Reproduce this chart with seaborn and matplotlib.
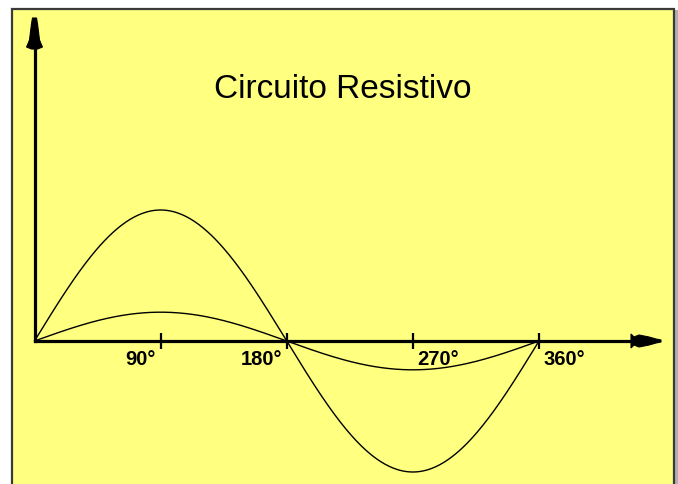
import numpy as np
import pandas as pd
import matplotlib
matplotlib.use("Agg")
import matplotlib.pyplot as plt
import matplotlib.transforms as mtransforms
from matplotlib.patches import Rectangle, Polygon
import seaborn as sns

# --- data -------------------------------------------------------------
angulos = np.arange(0, 361, 1)            # graus
amplitude_tensao = 1.0                    # pico da tensão (u.a.)
amplitude_corrente = 0.22                 # pico da corrente (u.a.)
marcas_graus = [90, 180, 270, 360]
rotulos_marcas = ["90°", "180°", "270°", "360°"]
titulo = "Circuito Resistivo"

# --- figure geometry (pixels) -----------------------------------------
W, H = 678, 484
DPI = 100
ORIGEM_X, ORIGEM_Y = 34.5, 341.0          # where (0°, 0) sits
PX_POR_GRAU = (539.0 - ORIGEM_X) / 360.0
PX_POR_UNIDADE = 131.0

AMARELO = "#FFFF80"

sns.set_theme(style="white")
plt.rcParams["font.family"] = ["Liberation Sans", "DejaVu Sans"]

fig = plt.figure(figsize=(W / DPI, H / DPI), dpi=DPI, facecolor="white")
# pixel transform with origin at the top-left corner
px = mtransforms.Affine2D().scale(1, -1).translate(0, H)

# framed yellow panel (behind the axes)
fig.patches.append(Rectangle((674, 10), 4, H, transform=px, facecolor="#B0B0B0",
                             edgecolor="none", zorder=-3))
fig.patches.append(Rectangle((12, 9), 662, H + 10, transform=px, facecolor=AMARELO,
                             edgecolor="#3a3a3a", linewidth=1.6, zorder=-2))

ax = fig.add_axes([0, 0, 1, 1])
ax.set_facecolor("none")
ax.set_xlim(-ORIGEM_X / PX_POR_GRAU, (W - ORIGEM_X) / PX_POR_GRAU)
ax.set_ylim(-(H - ORIGEM_Y) / PX_POR_UNIDADE, ORIGEM_Y / PX_POR_UNIDADE)

df = pd.DataFrame({
    "angulo": np.concatenate([angulos, angulos]),
    "valor": np.concatenate([
        amplitude_tensao * np.sin(np.radians(angulos)),
        amplitude_corrente * np.sin(np.radians(angulos)),
    ]),
    "grandeza": ["tensão"] * len(angulos) + ["corrente"] * len(angulos),
})
sns.lineplot(data=df, x="angulo", y="valor", hue="grandeza",
             palette={"tensão": "black", "corrente": "black"},
             linewidth=1.0, legend=False, ax=ax, zorder=3)

# axes through the origin
x_fim = (632 - ORIGEM_X) / PX_POR_GRAU
y_fim = (ORIGEM_Y - 46) / PX_POR_UNIDADE
for nome in ["top", "right"]:
    ax.spines[nome].set_visible(False)
ax.spines["bottom"].set_position(("data", 0))
ax.spines["left"].set_position(("data", 0))
ax.spines["bottom"].set_bounds(0, x_fim)
ax.spines["left"].set_bounds(0, y_fim)
for nome in ["bottom", "left"]:
    ax.spines[nome].set_color("black")
    ax.spines[nome].set_linewidth(2.3)
    ax.spines[nome].set_zorder(4)
    ax.spines[nome].set_capstyle("projecting")

ax.set_xticks(marcas_graus)
ax.set_yticks([])
ax.tick_params(axis="x", direction="inout", length=12, width=1.6, color="black",
               labelbottom=False, bottom=True)
ax.set_xlabel("")
ax.set_ylabel("")

# arrow heads
seta_x = [(-30, -7), (-27, -4), (-22, -6), (-12, -4), (-5, -2), (0, -1),
          (0, 1), (-5, 2), (-12, 4), (-22, 6), (-27, 4), (-30, 7)]
tip_x = (661, ORIGEM_Y)
fig.patches.append(Polygon([(tip_x[0] + dx, tip_x[1] + dy) for dx, dy in seta_x],
                           closed=True, transform=px, facecolor="black",
                           edgecolor="black", linewidth=0.8, zorder=5))
seta_y = [(-2, 0), (-3, 6), (-4, 14), (-5, 22), (-7, 27), (-8, 29), (-3, 31),
          (3, 31), (8, 29), (7, 27), (5, 22), (4, 14), (3, 6), (2, 0)]
tip_y = (ORIGEM_X, 18)
fig.patches.append(Polygon([(tip_y[0] + dx, tip_y[1] + dy) for dx, dy in seta_y],
                           closed=True, transform=px, facecolor="black",
                           edgecolor="black", linewidth=0.8, zorder=5))

# tick labels
for g, rot in zip(marcas_graus, rotulos_marcas):
    if g <= 180:
        off, ha = (-5, -9), "right"
    else:
        off, ha = (4, -9), "left"
    ax.annotate(rot, xy=(g, 0), xytext=off, textcoords="offset pixels",
                ha=ha, va="top", fontsize=14.5, fontweight="bold", color="black")

fig.text(343 / W, 1 - 89 / H, titulo, ha="center", va="center",
         fontsize=24, color="black")

fig.savefig("out.png", dpi=DPI, facecolor="white")
